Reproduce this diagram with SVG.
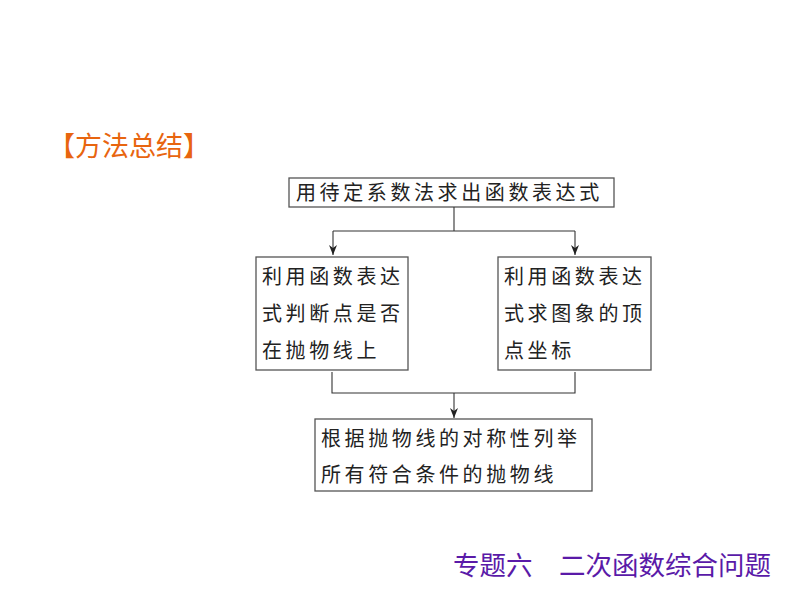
<svg xmlns="http://www.w3.org/2000/svg" width="794" height="596" viewBox="0 0 794 596">
<style>
.box{fill:#fff;stroke:#555;stroke-width:1.3}
.t{font-family:"Liberation Serif","Noto Sans CJK SC",serif;font-size:20px;fill:#222;letter-spacing:3.6px}
.c{fill:none;stroke:#333;stroke-width:1.1}
</style>
<defs><marker id="a" markerWidth="10" markerHeight="8" refX="10" refY="4" orient="auto" markerUnits="userSpaceOnUse" viewBox="0 0 10 8"><path d="M0,0 L10,4 L0,8 L3,4 Z" fill="#222"/></marker></defs>
<rect width="794" height="596" fill="#fff"/>
<text x="48" y="156" font-family="'Noto Sans CJK SC',sans-serif" font-size="27" fill="#e8650f">【方法总结】</text>
<g id="n1"><rect class="box" x="289" y="178" width="325" height="29"/><text class="t" x="296" y="200">用待定系数法求出函数表达式</text></g>
<g id="n2"><rect class="box" x="256" y="257" width="152" height="113"/><text class="t" x="262" y="284">利用函数表达</text><text class="t" x="262" y="321">式判断点是否</text><text class="t" x="262" y="358">在抛物线上</text></g>
<g id="n3"><rect class="box" x="498" y="257" width="153" height="113"/><text class="t" x="504" y="284">利用函数表达</text><text class="t" x="504" y="321">式求图象的顶</text><text class="t" x="504" y="358">点坐标</text></g>
<g id="n4"><rect class="box" x="315" y="419" width="277" height="72"/><text class="t" x="321" y="446">根据抛物线的对称性列举</text><text class="t" x="321" y="482">所有符合条件的抛物线</text></g>
<g id="connectors">
<path class="c" d="M454,207 V231 M333,231 H575"/>
<path class="c" d="M333,231 V255" marker-end="url(#a)"/>
<path class="c" d="M575,231 V255" marker-end="url(#a)"/>
<path class="c" d="M332,372 V393 H575 V372"/>
<path class="c" d="M454,393 V418" marker-end="url(#a)"/>
</g>
<text x="453" y="575" font-family="'Noto Sans CJK SC',sans-serif" font-size="26.5" fill="#5a1aa8" xml:space="preserve">专题六　二次函数综合问题</text>
</svg>
